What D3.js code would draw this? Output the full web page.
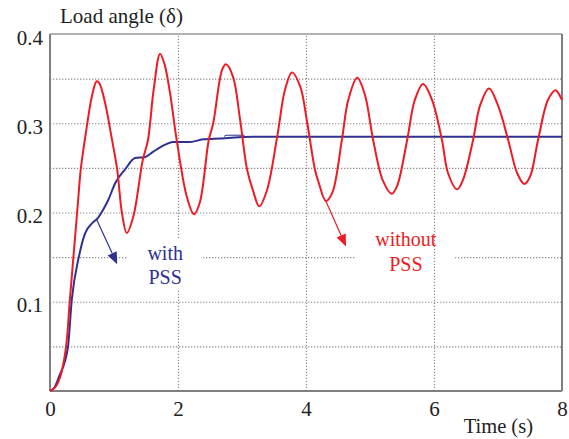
<!DOCTYPE html>
<html>
<head>
<meta charset="utf-8">
<script src="https://cdn.jsdelivr.net/npm/d3@7"></script>
<style>
  body { margin: 0; background: #fff; }
  svg { display: block; }
</style>
</head>
<body>
<div id="chart"></div>
<script>
// time (s) / load angle values
const timeNoPss = [0, 0.08, 0.16, 0.25, 0.31, 0.375, 0.44, 0.48, 0.56, 0.66, 0.73, 0.77, 0.86, 0.96, 1.05, 1.125, 1.2, 1.3, 1.45, 1.53, 1.62, 1.72, 1.79, 1.875, 1.98, 2.14, 2.25, 2.34, 2.48, 2.55, 2.69, 2.75, 2.86, 2.97, 3.08, 3.17, 3.27, 3.39, 3.55, 3.67, 3.78, 3.91, 4.02, 4.14, 4.2, 4.31, 4.41, 4.56, 4.66, 4.8, 4.92, 5.05, 5.2, 5.34, 5.42, 5.58, 5.7, 5.83, 5.97, 6.125, 6.22, 6.36, 6.45, 6.61, 6.72, 6.86, 7.0, 7.16, 7.3, 7.41, 7.5, 7.625, 7.78, 7.9, 7.94, 8.0];
const deltaNoPss = [0, 0.004, 0.016, 0.049, 0.102, 0.158, 0.214, 0.248, 0.289, 0.332, 0.347, 0.345, 0.323, 0.285, 0.248, 0.199, 0.177, 0.195, 0.259, 0.281, 0.338, 0.378, 0.366, 0.334, 0.281, 0.217, 0.198, 0.211, 0.281, 0.300, 0.360, 0.366, 0.352, 0.304, 0.248, 0.225, 0.207, 0.225, 0.285, 0.337, 0.357, 0.341, 0.300, 0.248, 0.233, 0.213, 0.222, 0.281, 0.326, 0.351, 0.332, 0.281, 0.236, 0.221, 0.229, 0.281, 0.326, 0.344, 0.326, 0.281, 0.244, 0.226, 0.236, 0.281, 0.320, 0.339, 0.320, 0.281, 0.244, 0.232, 0.240, 0.281, 0.326, 0.337, 0.334, 0.326];

const timePss = [0, 0.07, 0.14, 0.28, 0.34, 0.45, 0.55, 0.66, 0.75, 0.83, 0.91, 1.02, 1.17, 1.33, 1.48, 1.61, 1.8, 1.92, 2.19, 2.39, 2.66, 3.17, 8.0];
const deltaPss = [0, 0.004, 0.016, 0.049, 0.102, 0.150, 0.177, 0.188, 0.194, 0.203, 0.214, 0.233, 0.248, 0.261, 0.262, 0.268, 0.276, 0.279, 0.279, 0.282, 0.283, 0.285, 0.285];

// little double-line glitch on the PSS trace
const glitchTime = [2.72, 2.75, 3.02, 3.05];
const glitchDelta = [0.2852, 0.2866, 0.2866, 0.2852];

const xTicks = [0, 2, 4, 6, 8];
const yTicks = [0.1, 0.2, 0.3, 0.4];
const yGrid = [0.05, 0.1, 0.15, 0.2, 0.25, 0.3, 0.35];
const xGrid = [2, 4, 6];

const Chart = {
  init() {
    this.noPss = timeNoPss.map((t, i) => ({ t, v: deltaNoPss[i] }));
    this.pss = timePss.map((t, i) => ({ t, v: deltaPss[i] }));
    this.glitch = glitchTime.map((t, i) => ({ t, v: glitchDelta[i] }));

    this.setVar();
    this.create();
    this.scales();
    this.grid();
    this.axis();
    this.createPaths();
    this.createLabels();
  },

  setVar() {
    // Colors
    this.red = '#ED1C24';
    this.blue = '#2E3192';
    this.gridColor = '#8c8c8c';
    this.font = '"Liberation Serif"';

    // Margins
    this.margin = { left: 50, right: 7, top: 34, bottom: 48 };
    this.outerWidth = 569;
    this.outerHeight = 439;
    this.width = this.outerWidth - this.margin.left - this.margin.right;
    this.height = this.outerHeight - this.margin.top - this.margin.bottom;
  },

  create() {
    this.svg = d3.select('#chart').append('svg')
      .attr('width', this.outerWidth)
      .attr('height', this.outerHeight);

    this.svg.append('rect')
      .attr('width', this.outerWidth)
      .attr('height', this.outerHeight)
      .attr('fill', '#fff');

    this.g = this.svg.append('g')
      .attr('transform', `translate(${this.margin.left} ${this.margin.top})`);
  },

  scales() {
    this.x = d3.scaleLinear().domain([0, 8]).range([0, this.width]);
    this.y = d3.scaleLinear().domain([0, 0.4]).range([this.height, 0]);
  },

  grid() {
    const hGrid = this.g.append('g')
      .call(d3.axisLeft(this.y).tickValues(yGrid).tickSize(-this.width).tickFormat(''));
    hGrid.select('.domain').remove();
    hGrid.selectAll('line')
      .attr('stroke', this.gridColor)
      .attr('stroke-width', 1.2)
      .attr('stroke-dasharray', '1.3,1.7');

    // white box behind "without PSS" breaks only the horizontal line
    this.g.append('rect')
      .attr('x', this.x(4.78)).attr('y', this.y(0.158))
      .attr('width', this.x(6.33) - this.x(4.78))
      .attr('height', this.y(0.142) - this.y(0.158))
      .attr('fill', '#fff');

    const vGrid = this.g.append('g')
      .attr('transform', `translate(0, ${this.height})`)
      .call(d3.axisBottom(this.x).tickValues(xGrid).tickSize(-this.height).tickFormat(''));
    vGrid.select('.domain').remove();
    vGrid.selectAll('line')
      .attr('stroke', this.gridColor)
      .attr('stroke-width', 1.2)
      .attr('stroke-dasharray', '1.3,1.7');

    // white box behind "with PSS"
    this.g.append('rect')
      .attr('x', this.x(1.22)).attr('y', this.y(0.170))
      .attr('width', this.x(2.36) - this.x(1.22))
      .attr('height', this.y(0.113) - this.y(0.170))
      .attr('fill', '#fff');
  },

  axis() {
    const ay = this.g.append('g')
      .call(d3.axisLeft(this.y).tickValues(yTicks).tickSize(0).tickPadding(7).tickFormat(d3.format('.1f')));
    ay.select('.domain').remove();
    ay.attr('font-family', null).attr('font-size', null);
    ay.selectAll('text')
      .style('font-family', this.font)
      .style('font-size', '21px')
      .attr('fill', '#222')
      .attr('dy', '10px');

    const ax = this.g.append('g')
      .attr('transform', `translate(0, ${this.height})`)
      .call(d3.axisBottom(this.x).tickValues(xTicks).tickSize(0).tickFormat(d3.format('d')));
    ax.select('.domain').remove();
    ax.attr('font-family', null).attr('font-size', null);
    ax.selectAll('text')
      .style('font-family', this.font)
      .style('font-size', '21px')
      .attr('fill', '#222')
      .attr('y', 25)
      .attr('dy', 0);

    // frame
    this.g.append('line')
      .attr('x1', 0).attr('x2', this.width).attr('y1', 0).attr('y2', 0)
      .attr('stroke', '#9a9a9a').attr('stroke-width', 1.5);
    this.g.append('line')
      .attr('x1', this.width).attr('x2', this.width).attr('y1', 0).attr('y2', this.height)
      .attr('stroke', '#555').attr('stroke-width', 1.5);
    this.g.append('line')
      .attr('x1', 0).attr('x2', this.width).attr('y1', this.height).attr('y2', this.height)
      .attr('stroke', '#808080').attr('stroke-width', 2);
    this.g.append('line')
      .attr('x1', 0).attr('x2', 0).attr('y1', 0).attr('y2', this.height)
      .attr('stroke', '#808080').attr('stroke-width', 2);

    this.svg.append('text')
      .attr('x', 60).attr('y', 23)
      .style('font-family', this.font)
      .style('font-size', '21px')
      .attr('fill', '#222')
      .text('Load angle (δ)');

    this.svg.append('text')
      .attr('x', 533).attr('y', 433)
      .attr('text-anchor', 'end')
      .style('font-family', this.font)
      .style('font-size', '20.5px')
      .attr('fill', '#222')
      .text('Time (s)');
  },

  createPaths() {
    const lineRed = d3.line()
      .x((d) => this.x(d.t))
      .y((d) => this.y(d.v))
      .curve(d3.curveCatmullRom.alpha(0.5));

    const lineBlue = d3.line()
      .x((d) => this.x(d.t))
      .y((d) => this.y(d.v))
      .curve(d3.curveMonotoneX);

    this.g.append('path')
      .attr('class', 'path-pss')
      .attr('d', lineBlue(this.pss))
      .attr('fill', 'none')
      .attr('stroke', this.blue)
      .attr('stroke-width', 2);

    this.g.append('path')
      .attr('class', 'path-glitch')
      .attr('d', d3.line().x((d) => this.x(d.t)).y((d) => this.y(d.v))(this.glitch))
      .attr('fill', 'none')
      .attr('stroke', this.blue)
      .attr('stroke-width', 1);

    this.g.append('path')
      .attr('class', 'path-no-pss')
      .attr('d', lineRed(this.noPss))
      .attr('fill', 'none')
      .attr('stroke', this.red)
      .attr('stroke-width', 2);
  },

  arrow(from, to, color) {
    const x1 = this.x(from[0]), y1 = this.y(from[1]);
    const x2 = this.x(to[0]), y2 = this.y(to[1]);
    const ang = Math.atan2(y2 - y1, x2 - x1);
    const len = 12, half = 5;
    const bx = x2 - len * Math.cos(ang), by = y2 - len * Math.sin(ang);

    this.g.append('line')
      .attr('x1', x1).attr('y1', y1).attr('x2', bx).attr('y2', by)
      .attr('stroke', color).attr('stroke-width', 1.2);

    this.g.append('path')
      .attr('d', `M${x2},${y2}L${bx + half * Math.sin(ang)},${by - half * Math.cos(ang)}L${bx - half * Math.sin(ang)},${by + half * Math.cos(ang)}Z`)
      .attr('fill', color);
  },

  createLabels() {
    this.arrow([0.73, 0.192], [1.05, 0.142], this.blue);
    this.arrow([4.31, 0.213], [4.625, 0.162], this.red);

    const label = (t, v, txt, color) => this.g.append('text')
      .attr('x', this.x(t)).attr('y', this.y(v))
      .attr('text-anchor', 'middle')
      .style('font-family', this.font)
      .style('font-size', '20px')
      .attr('fill', color)
      .text(txt);

    label(1.80, 0.147, 'with', this.blue);
    label(1.80, 0.120, 'PSS', this.blue);
    label(5.56, 0.162, 'without', this.red);
    label(5.56, 0.134, 'PSS', this.red);
  },
};

Chart.init();
</script>
</body>
</html>
